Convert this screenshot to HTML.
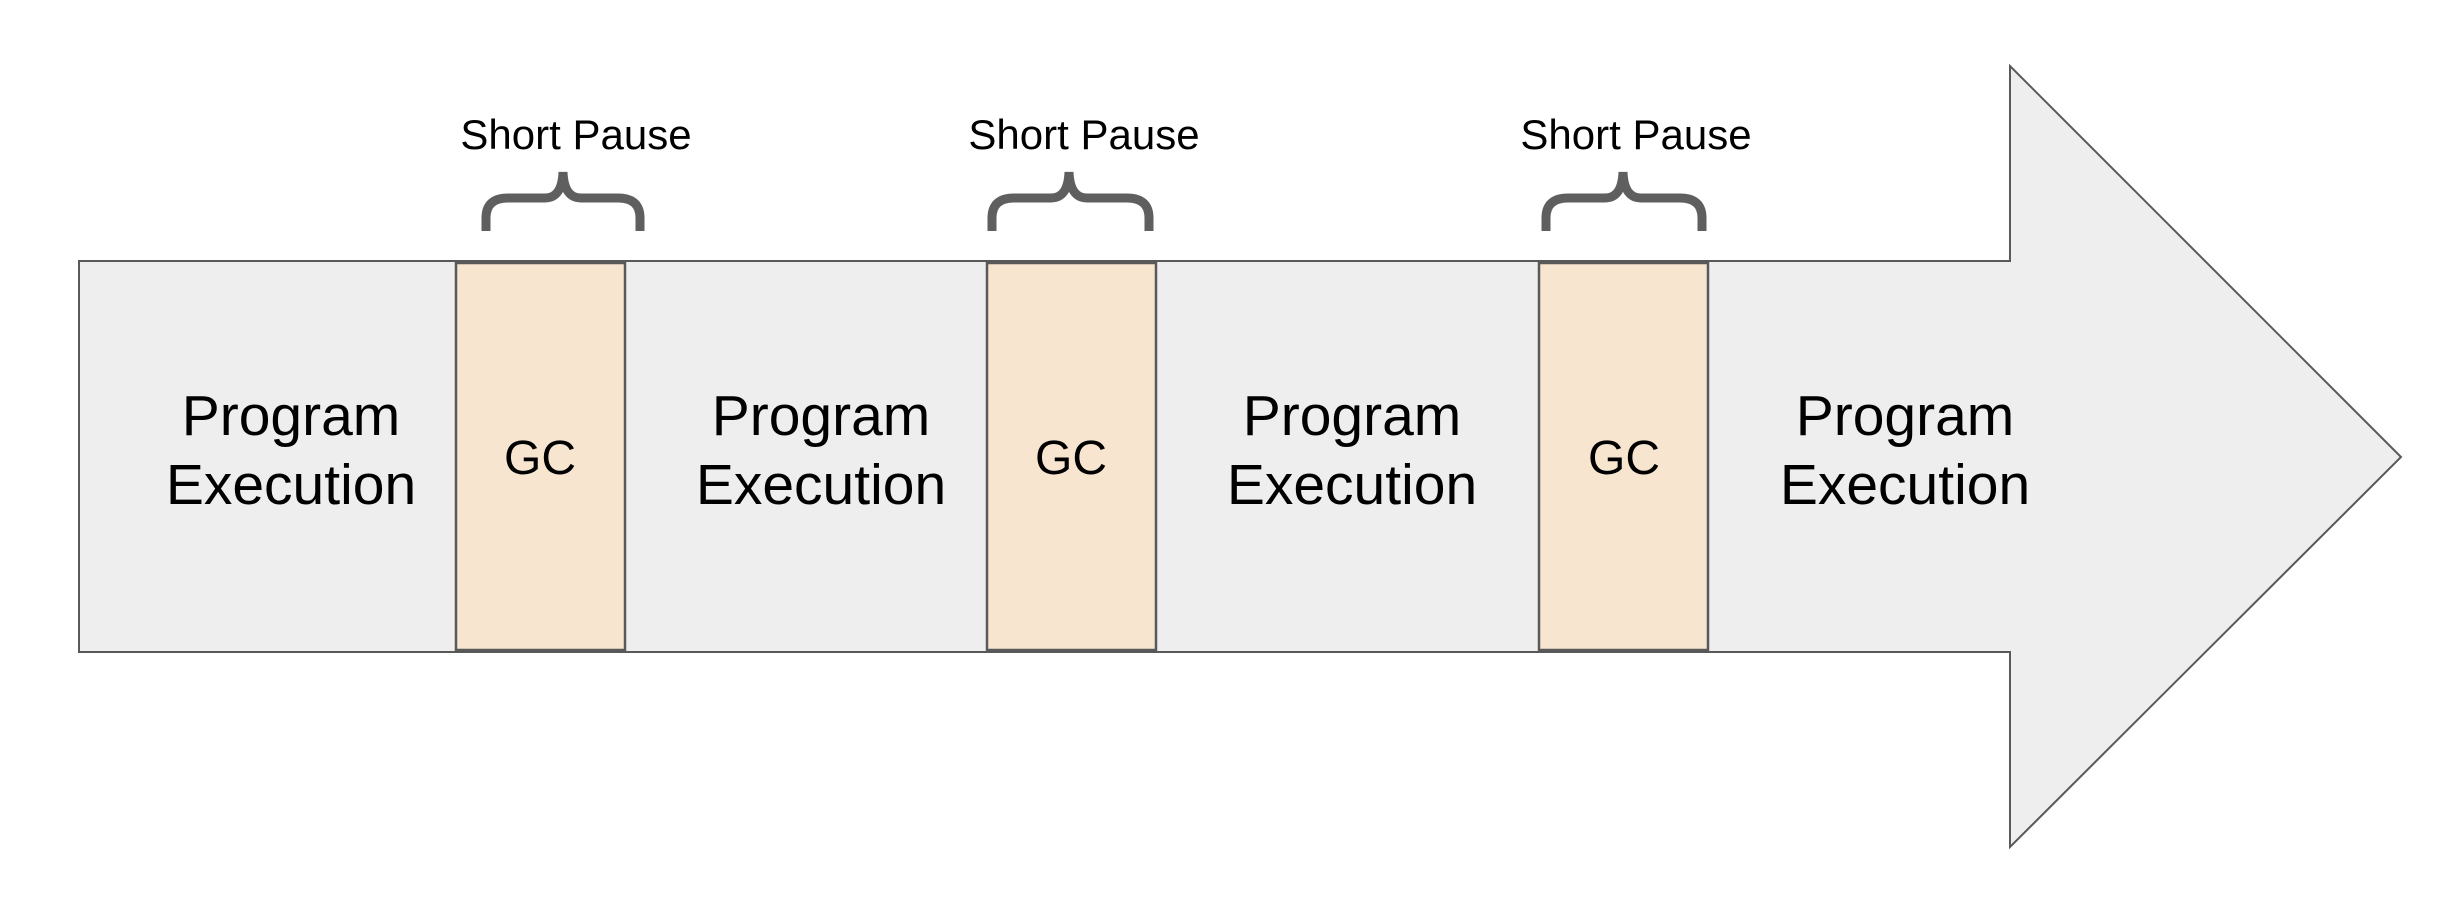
<!DOCTYPE html>
<html><head><meta charset="utf-8"><style>
html,body{margin:0;padding:0;background:#fff;}
svg{display:block;}
text{font-family:"Liberation Sans",Arial,sans-serif;fill:#000;}
</style></head><body>
<svg width="2464" height="898" viewBox="0 0 2464 898" xmlns="http://www.w3.org/2000/svg">
<polygon points="79,261 2010,261 2010,66 2401,457 2010,847 2010,652 79,652" fill="#eeeeee" stroke="#595959" stroke-width="2"/>
<g fill="#f7e5d0" stroke="#595959" stroke-width="2.5">
<rect x="456" y="263" width="169" height="387"/>
<rect x="987" y="263" width="169" height="387"/>
<rect x="1539" y="263" width="169" height="387"/>
</g>
<g font-size="57" text-anchor="middle">
<text x="291" y="435">Program</text><text x="291" y="504">Execution</text>
<text x="821" y="435">Program</text><text x="821" y="504">Execution</text>
<text x="1352" y="435">Program</text><text x="1352" y="504">Execution</text>
<text x="1905" y="435">Program</text><text x="1905" y="504">Execution</text>
</g>
<g font-size="48" text-anchor="middle">
<text x="540" y="474">GC</text>
<text x="1071" y="474">GC</text>
<text x="1624" y="474">GC</text>
</g>
<g font-size="42" text-anchor="middle">
<text x="576" y="149">Short Pause</text>
<text x="1084" y="149">Short Pause</text>
<text x="1636" y="149">Short Pause</text>
</g>
<g fill="none" stroke="#5f5f5f" stroke-width="9">
<path d="M486 231 V218 Q486 198 508 198 H545 Q562 198 563 172 Q564 198 581 198 H618 Q640 198 640 218 V231"/>
<path d="M992 231 V218 Q992 198 1014 198 H1051 Q1068 198 1069 172 Q1070 198 1087 198 H1127 Q1149 198 1149 218 V231"/>
<path d="M1546 231 V218 Q1546 198 1568 198 H1605 Q1622 198 1623 172 Q1624 198 1641 198 H1680 Q1702 198 1702 218 V231"/>
</g>
</svg>
</body></html>
